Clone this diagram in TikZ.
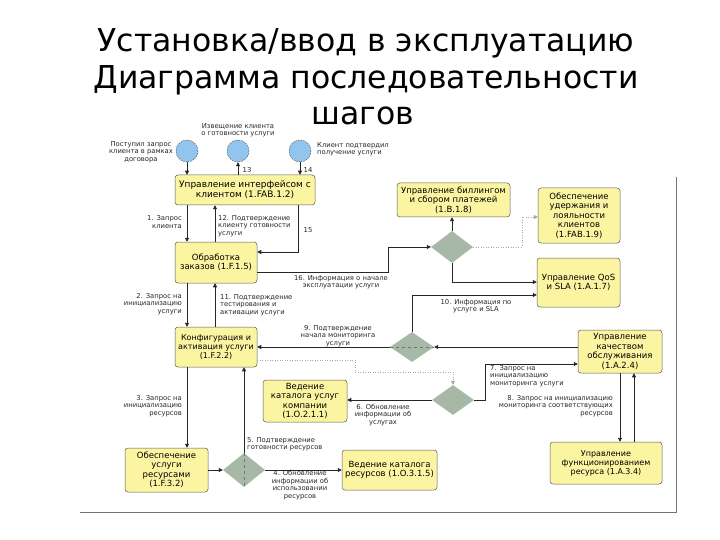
\documentclass[tikz,border=0pt]{standalone}
\usepackage{fontspec}
\setmainfont{DejaVu Sans}
\usetikzlibrary{shapes.geometric,arrows.meta}
\definecolor{boxfill}{HTML}{FBF5A2}
\definecolor{circfill}{HTML}{92C4EE}
\definecolor{diafill}{HTML}{A7B8A6}
\begin{document}
\begin{tikzpicture}[x=1pt,y=-1pt,
 box/.style={draw=black!65, fill=boxfill, rounded corners=3pt, line width=0.5pt, align=center, inner sep=0pt, font=\fontsize{8.5}{9.5}\selectfont},
 evt/.style={circle, draw=black!70, dash pattern=on 1.5pt off 1pt, fill=circfill, minimum size=22pt, inner sep=0pt},
 gate/.style={diamond, fill=diafill, inner sep=0pt},
 arr/.style={draw=black!85, line width=0.6pt, -{Triangle[length=4pt,width=4pt]}},
 ln/.style={draw=black!85, line width=0.6pt},
 faint/.style={draw=black!35, line width=0.5pt, dash pattern=on 1pt off 1.5pt},
 lbl/.style={font=\fontsize{6.8}{7.4}\selectfont, inner sep=0pt, text=black!85},
 ttl/.style={font=\fontsize{31.5}{36}\selectfont, inner sep=0pt, anchor=base},
 ]
\useasboundingbox (0,0) rectangle (720,540);

% title
\node[ttl] (t1) at (366,52) {Установка/ввод в эксплуатацию};
\node[ttl] (t2) at (366,88.5) {Диаграмма последовательности};
\node[ttl] (t3) at (363,125) {шагов};

% frame
\coordinate (f1) at (676,177);
\coordinate (f2) at (676,512);
\coordinate (f3) at (80,512);
\draw[draw=black!55, line width=0.7pt] (f1) -- (f2) -- (f3);

% events
\node[evt] (c1) at (187,151) {};
\node[evt] (c2) at (238,151) {};
\node[evt] (c3) at (300,151) {};
\node[lbl, align=center] (lc1) at (141,152) {Поступил запрос\\клиента в рамках\\договора};
\node[lbl, align=center] (lc2) at (238,130) {Извещение клиента\\о готовности услуги};
\node[lbl, align=left, anchor=west] (lc3) at (317,149) {Клиент подтвердил\\получение услуги};

% boxes
\node[box, minimum width=140pt, minimum height=30pt, font=\fontsize{9}{10}\selectfont] (A) at (245,190) {Управление интерфейсом с\\клиентом (1.FAB.1.2)};
\node[box, minimum width=82pt, minimum height=41pt] (B) at (216,262.5) {Обработка\\заказов (1.F.1.5)};
\node[box, minimum width=82pt, minimum height=40pt, font=\fontsize{8}{9.2}\selectfont] (C) at (216,347) {Конфигурация и\\активация услуги\\(1.F.2.2)};
\node[box, minimum width=83pt, minimum height=44pt] (R) at (166.5,470) {Обеспечение\\услуги\\ресурсами\\(1.F.3.2)};
\node[box, minimum width=84pt, minimum height=42pt] (SC) at (305,401) {Ведение\\каталога услуг\\компании\\(1.O.2.1.1)};
\node[box, minimum width=95pt, minimum height=40pt] (RC) at (389.5,470) {Ведение каталога\\ресурсов (1.O.3.1.5)};
\node[box, minimum width=113pt, minimum height=34pt] (BL) at (453.5,200) {Управление биллингом\\и сбором платежей\\(1.B.1.8)};
\node[box, minimum width=82pt, minimum height=55pt] (RT) at (579,215.5) {Обеспечение\\удержания и\\лояльности\\клиентов\\(1.FAB.1.9)};
\node[box, minimum width=83pt, minimum height=49pt] (QS) at (578.5,282.5) {Управление QoS\\и SLA (1.A.1.7)};
\node[box, minimum width=84pt, minimum height=43pt] (Q) at (620,351.5) {Управление\\качеством\\обслуживания\\(1.A.2.4)};
\node[box, minimum width=112pt, minimum height=42pt, font=\fontsize{8}{9}\selectfont] (RF) at (606,463) {Управление\\функционированием\\ресурса (1.A.3.4)};

% gateways
\node[gate, minimum width=42pt, minimum height=32pt] (D1) at (452,247) {};
\node[gate, minimum width=44pt, minimum height=30pt] (D2) at (412,347) {};
\node[gate, minimum width=42pt, minimum height=30pt] (D3) at (453,400) {};
\node[gate, minimum width=42pt, minimum height=34pt] (D4) at (244,470) {};
\draw[draw=black!55, line width=0.5pt, dashed] (D2.west) -- (D2.east);
\draw[draw=black!55, line width=0.5pt, dashed] (D4.north) -- (D4.south);

% bend coordinates
\coordinate (k15) at (298,252);
\coordinate (k16a) at (388,272);
\coordinate (k16b) at (388,247);
\coordinate (k17) at (522,217);
\coordinate (kq) at (452,282);
\coordinate (k10) at (412,295);
\coordinate (k7a) at (485,400);
\coordinate (k7b) at (485,364);
\coordinate (k6a) at (355,360);
\coordinate (k6b) at (355,372);
\coordinate (k6c) at (453,372);
\coordinate (x1) at (187,0);
\coordinate (x12) at (215,0);
\coordinate (xd) at (634,0);

% connectors
\draw[arr] (c1) -- (c1 |- A.north);
\draw[arr] (A.north -| c2) -- (c2);
\draw[arr] (c3) -- (c3 |- A.north);
\draw[arr] (A.south -| x1) -- (B.north -| x1);
\draw[arr] (B.north -| x12) -- (A.south -| x12);
\draw[arr] (A.south -| k15) -- (k15) -- (B.east |- k15);
\draw[arr] (B.east |- k16a) -- (k16a) -- (k16b) -- (D1.west);
\draw[arr] (D1.north) -- (D1.north |- BL.south);
\draw[arr, faint] (D1.east) -- (D1.east -| k17) -- (k17) -- (RT.west |- k17);
\draw[arr] (D1.south) -- (kq) -- (QS.west |- kq);
\draw[arr] (B.south -| x1) -- (C.north -| x1);
\draw[arr] (C.north -| x12) -- (B.south -| x12);
\draw[arr] (D2.north) -- (k10) -- (QS.west |- k10);
\draw[arr] (Q.west |- D2) -- (D2.east);
\draw[arr] (D2.west) -- (C.east |- D2);
\draw[arr, faint] (C.east |- k6a) -- (k6a) -- (k6b) -- (k6c) -- (D3.north);
\draw[arr] (D3.east) -- (k7a) -- (k7b) -- (Q.west |- k7b);
\draw[arr] (D3.west) -- (SC.east |- D3);
\draw[arr] (Q.south) -- (Q.south |- RF.north);
\draw[arr] (RF.north -| xd) -- (Q.south -| xd);
\draw[arr] (C.south -| x1) -- (R.north -| x1);
\draw[arr] (D4.north) -- (D4.north |- C.south);
\draw[arr] (R.east |- D4) -- (D4.west);
\draw[arr] (D4.east) -- (RC.west |- D4);

% labels
\node[lbl] (n13) at (247,170) {13};
\node[lbl] (n14) at (308,170) {14};
\node[lbl] (n15) at (308,230) {15};
\node[lbl, align=right, anchor=east] (l1) at (182,222) {1. Запрос\\клиента};
\node[lbl, align=left, anchor=west] (l12) at (218,226) {12. Подтверждение\\клиенту готовности\\услуги};
\node[lbl, align=center] (l16) at (341,282) {16. Информация о начале\\эксплуатации услуги};
\node[lbl, align=right, anchor=east] (l2) at (182,304) {2. Запрос на\\инициализацию\\услуги};
\node[lbl, align=left, anchor=west] (l11) at (220,305) {11. Подтверждение\\тестирования и\\активации услуги};
\node[lbl, align=center] (l9) at (338,336) {9. Подтверждение\\начала мониторинга\\услуги};
\node[lbl, align=center] (l10) at (476,306) {10. Информация по\\услуге и SLA};
\node[lbl, align=left, anchor=west] (l7) at (490,376) {7. Запрос на\\инициализацию\\мониторинга услуги};
\node[lbl, align=right, anchor=east] (l8) at (613,406) {8. Запрос на инициализацию\\мониторинга соответствующих\\ресурсов};
\node[lbl, align=center] (l6) at (383,415) {6. Обновление\\информации об\\услугах};
\node[lbl, align=right, anchor=east] (l3) at (182,406) {3. Запрос на\\инициализацию\\ресурсов};
\node[lbl, align=left, anchor=west] (l5) at (247,444) {5. Подтверждение\\готовности ресурсов};
\node[lbl, align=center] (l4) at (300,485) {4. Обновление\\информации об\\использовании\\ресурсов};
\end{tikzpicture}
\end{document}
